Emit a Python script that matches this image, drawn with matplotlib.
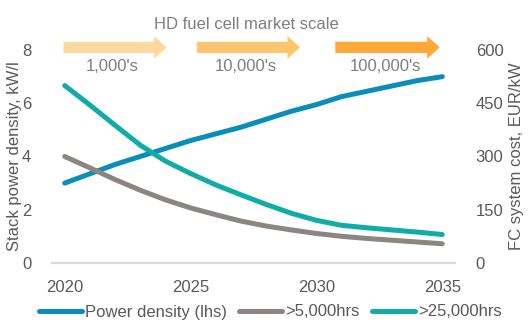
import matplotlib
matplotlib.use("Agg")
import matplotlib.pyplot as plt
from matplotlib.patches import FancyArrow

plt.rcParams["font.family"] = ["Liberation Sans", "DejaVu Sans"]
plt.rcParams["font.size"] = 12

# ---- data ----
years = list(range(2020, 2036))
power_density = [3.0, 3.35, 3.7, 4.0, 4.3, 4.6, 4.85, 5.1,
                 5.4, 5.7, 5.95, 6.25, 6.45, 6.65, 6.85, 7.0]      # kW/l, lhs
cost_5000 = [300, 268, 235, 205, 178, 155, 136, 118,
             104, 93, 83, 75, 69, 64, 59, 54]                     # EUR/kW, rhs
cost_25000 = [500, 445, 388, 332, 287, 252, 220, 192,
              165, 140, 120, 106, 99, 93, 87, 80]                 # EUR/kW, rhs

series_labels = ["Power density (lhs)", ">5,000hrs", ">25,000hrs"]
scale_labels = ["1,000's", "10,000's", "100,000's"]
scale_title = "HD fuel cell market scale"
left_ticks = [0, 2, 4, 6, 8]
right_ticks = [0, 150, 300, 450, 600]
x_ticks = [2020, 2025, 2030, 2035]

# ---- styles ----
BLUE = "#0a8db8"
GREY = "#8c8580"
TEAL = "#10ada6"
ARROW_COLS = ["#fdd9a0", "#ffc46e", "#ffa838"]
TXT = "#595959"
LW = 3.6

fig = plt.figure(figsize=(5.32, 3.25), dpi=100)
ax = fig.add_axes([0.098, 0.191, 0.757, 0.655])
ax2 = ax.twinx()

l1, = ax.plot(years, power_density, color=BLUE, lw=LW, solid_capstyle="round")
l2, = ax2.plot(years, cost_5000, color=GREY, lw=LW, solid_capstyle="round")
l3, = ax2.plot(years, cost_25000, color=TEAL, lw=LW, solid_capstyle="round")

ax.set_xlim(2019.5, 2035.5)
ax.set_ylim(0, 8)
ax2.set_ylim(0, 600)
ax.set_xticks(x_ticks)
ax.set_yticks(left_ticks)
ax2.set_yticks(right_ticks)

for a in (ax, ax2):
    for s in ("top", "left", "right"):
        a.spines[s].set_visible(False)
    a.spines["bottom"].set_color("#d9d9d9")
    a.spines["bottom"].set_linewidth(1.5)
    a.tick_params(length=0, colors=TXT, labelsize=12)
ax.tick_params(axis="y", pad=15)
ax.tick_params(axis="x", pad=12)
ax2.tick_params(axis="y", pad=15)

ax.set_ylabel("Stack power density, kW/l", color=TXT, fontsize=12, labelpad=0)
ax2.set_ylabel("FC system cost, EUR/kW", color=TXT, fontsize=12, labelpad=4)

# market scale arrows above the plot
arrow_x = [(2019.95, 2024.05), (2025.25, 2029.35), (2030.75, 2034.9)]
arrow_y = 8.1
for (x0, x1), col, lab in zip(arrow_x, ARROW_COLS, scale_labels):
    ax.add_patch(FancyArrow(x0, arrow_y, x1 - x0, 0, width=0.42,
                            head_width=0.85, head_length=0.5,
                            length_includes_head=True, color=col,
                            lw=0, clip_on=False))
    ax.text((x0 + x1) / 2 - 0.1, 7.37, lab, ha="center", va="center",
            color="#7f7f7f", fontsize=12)
ax.text(2027.2, 8.95, scale_title, ha="center", va="center",
        color="#7f7f7f", fontsize=12, clip_on=False)

fig.legend([l1, l2, l3], series_labels, loc="center", ncol=3,
           bbox_to_anchor=(0.508, 0.04), frameon=False, fontsize=12,
           handlelength=2.6, handletextpad=0.2, columnspacing=0.7,
           labelcolor=TXT)

fig.savefig("out.png", dpi=100)
